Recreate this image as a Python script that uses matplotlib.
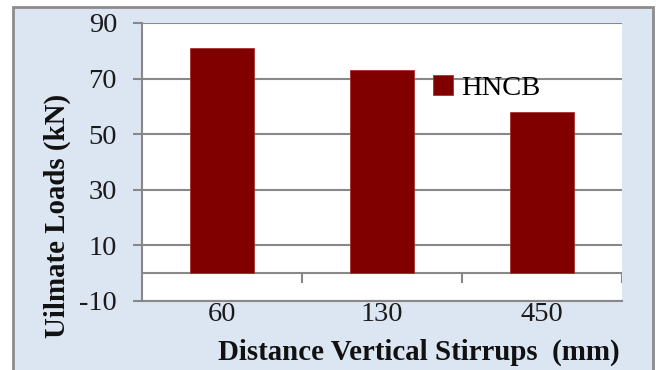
"""Ultimate load vs. vertical stirrup spacing, HNCB beams."""

import matplotlib

matplotlib.use("Agg")
import matplotlib.pyplot as plt
from matplotlib.patches import Rectangle

categories = ["60", "130", "450"]
hncb_loads = [81, 73, 58]
y_ticks = [-10, 10, 30, 50, 70, 90]

W, H = 660, 370
FRAME_BG = "#DCE6F2"
GRID = "#888888"
BAR = "#800000"

plt.rcParams["font.family"] = ["Liberation Serif", "DejaVu Serif"]
plt.rcParams["axes.unicode_minus"] = False

fig = plt.figure(figsize=(W / 100, H / 100), dpi=100)
fig.patch.set_facecolor("white")

# outer chart frame (light blue, grey border)
fig.patches.append(
    Rectangle((13 / W, 1 - 380 / H), 640 / W, 373 / H, transform=fig.transFigure,
              facecolor=FRAME_BG, edgecolor="#8c8c8c", linewidth=2.0, zorder=-1)
)

ax = fig.add_axes([142 / W, 1 - 301 / H, 480 / W, 278 / H])
ax.set_zorder(1)
ax.set_facecolor("white")

x = list(range(len(categories)))
ax.bar(x, hncb_loads, width=0.4, color=BAR, edgecolor="#a83232", linewidth=0.6,
       label="HNCB", zorder=3)

ax.set_xlim(-0.5, len(categories) - 0.5)
ax.set_ylim(y_ticks[0], y_ticks[-1])
ax.set_yticks(y_ticks)
ax.set_xticks(x)
ax.set_xticklabels(categories)
ax.yaxis.grid(True, color=GRID, linewidth=1.5, zorder=1)
ax.set_axisbelow(True)

for side in ("top", "right"):
    ax.spines[side].set_visible(False)
ax.spines["left"].set_color(GRID)
ax.spines["left"].set_linewidth(1.5)
ax.spines["bottom"].set_color(GRID)
ax.spines["bottom"].set_linewidth(1.5)

ax.tick_params(axis="y", colors=GRID, length=6.5, width=1.5, pad=11.5, labelsize=20.5,
               labelcolor="#1a1a1a")
ax.tick_params(axis="x", length=0, pad=0.5, labelsize=20.5, labelcolor="#1a1a1a")

# category axis at zero with boundary tick marks
ax.axhline(0, color=GRID, linewidth=1.5, zorder=2)
bounds = [i - 0.5 for i in range(1, len(categories) + 1)]
ax.vlines(bounds, -3.5, 0, colors=GRID, linewidth=1.5, zorder=2)

fig.text(57 / W, 1 - 216 / H, "Uilmate Loads (kN)", rotation=90, ha="center",
         va="center", fontsize=20.8, fontweight="bold", color="#111111")
fig.text(419 / W, 1 - 352 / H, "Distance Vertical Stirrups  (mm)", ha="center",
         va="center", fontsize=20.8, fontweight="bold", color="#111111")

ax.legend(loc="center left", bbox_to_anchor=(433 / W, 1 - 88 / H),
          bbox_transform=fig.transFigure, frameon=False, borderpad=0,
          borderaxespad=0, handlelength=0.7, handleheight=0.7, handletextpad=0.3,
          fontsize=20.5)

fig.savefig("out.png", dpi=100)
